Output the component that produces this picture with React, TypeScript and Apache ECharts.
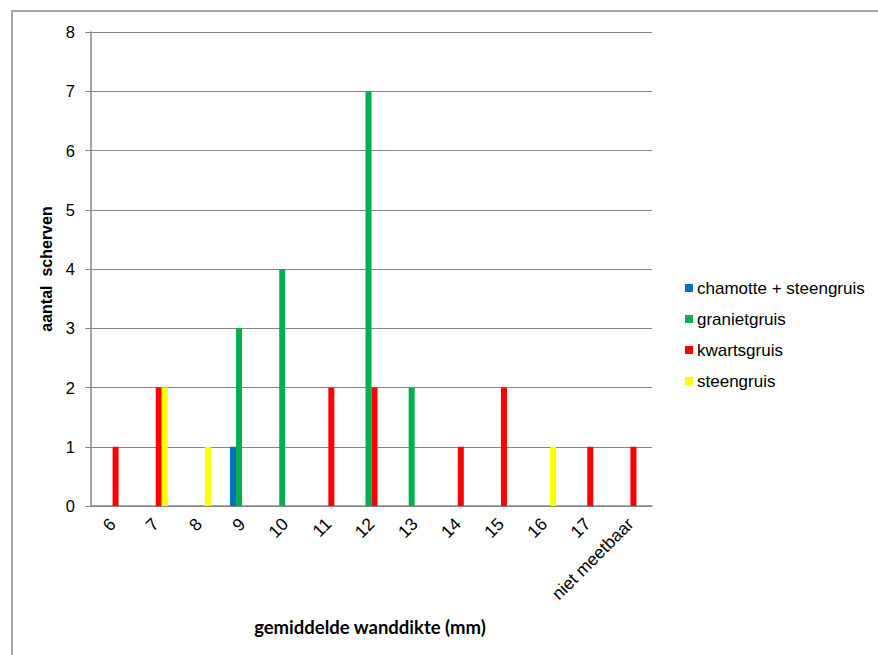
import React, { useEffect, useRef } from "react";
import * as echarts from "echarts";

const categories = ["6", "7", "8", "9", "10", "11", "12", "13", "14", "15", "16", "17", "niet meetbaar"];
const chamotteSteengruis = [null, null, null, 1, null, null, null, null, null, null, null, null, null];
const granietgruis = [null, null, null, 3, 4, null, 7, 2, null, null, null, null, null];
const kwartsgruis = [1, 2, null, null, null, 2, 2, null, 1, 2, null, 1, 1];
const steengruis = [null, 2, 1, null, null, null, null, null, null, null, 1, null, null];
const yTicks = { min: 0, max: 8, interval: 1 };

const FONT = "'Liberation Sans', Arial, sans-serif";

export default function App() {
  const ref = useRef<HTMLDivElement>(null);
  useEffect(() => {
    if (!ref.current) return;
    const chart = echarts.init(ref.current, null, { renderer: "svg" });
    const mk = (name: string, data: (number | null)[], color: string) => ({
      name,
      type: "bar",
      data,
      barWidth: 6,
      barGap: "0%",
      itemStyle: { color },
    });
    chart.setOption({
      animation: false,
      backgroundColor: "#ffffff",
      textStyle: { fontFamily: FONT },
      grid: { left: 91, top: 32, right: 226, bottom: 149 },
      legend: {
        orient: "vertical",
        left: 680,
        top: 274,
        itemWidth: 8,
        itemHeight: 8,
        itemGap: 13,
        icon: "rect",
        textStyle: { fontFamily: FONT, fontSize: 17, color: "#000", lineHeight: 18, padding: [0, 0, 0, -1] },
        data: ["chamotte + steengruis", "granietgruis", "kwartsgruis", "steengruis"],
      },
      xAxis: {
        type: "category",
        data: categories,
        axisLine: { show: true, lineStyle: { color: "#868686", width: 1.5 } },
        axisTick: { show: false },
        axisLabel: { rotate: 45, margin: 15, fontFamily: FONT, fontSize: 17.5, color: "#000", interval: 0 },
        splitLine: { show: false },
      },
      yAxis: {
        type: "value",
        min: yTicks.min,
        max: yTicks.max,
        interval: yTicks.interval,
        name: "aantal  scherven",
        nameLocation: "middle",
        nameRotate: 90,
        nameGap: 35,
        nameTextStyle: { fontFamily: FONT, fontSize: 16, fontWeight: "bold", color: "#000" },
        axisLine: { show: true, lineStyle: { color: "#868686", width: 1.5 } },
        axisTick: { show: true, length: 6, lineStyle: { color: "#868686" } },
        axisLabel: { margin: 16, fontFamily: FONT, fontSize: 16.5, color: "#000" },
        splitLine: { show: true, lineStyle: { color: "#868686", width: 1 } },
      },
      graphic: [
        {
          type: "rect",
          shape: { x: 12, y: 11, width: 900, height: 700 },
          style: { fill: "none", stroke: "#a6a6a6", lineWidth: 2 },
          silent: true,
        },
        {
          type: "text",
          x: 370,
          y: 627,
          style: {
            text: "gemiddelde wanddikte (mm)",
            font: "bold 18.5px Lato, 'Open Sans', sans-serif",
            fill: "#000",
            textAlign: "center",
            textVerticalAlign: "middle",
          },
        },
      ],
      series: [
        mk("chamotte + steengruis", chamotteSteengruis, "#0070C0"),
        mk("granietgruis", granietgruis, "#00B050"),
        mk("kwartsgruis", kwartsgruis, "#FF0000"),
        mk("steengruis", steengruis, "#FFFF00"),
      ],
    });
    return () => chart.dispose();
  }, []);
  return (
    <div
      ref={ref}
      style={{ position: "fixed", left: 0, top: 0, width: 878, height: 655, background: "#fff" }}
    />
  );
}
